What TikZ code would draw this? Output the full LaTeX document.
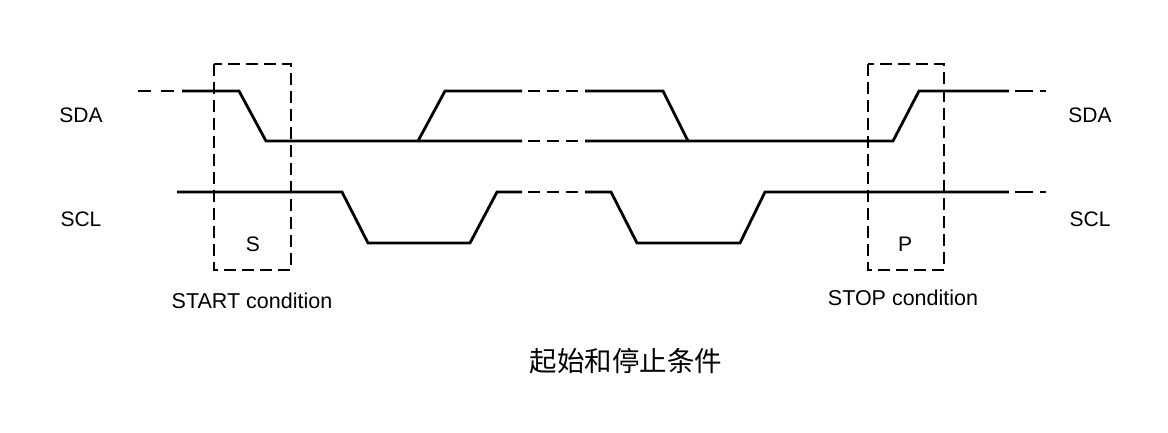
\documentclass[tikz,border=0pt]{standalone}
\usepackage{fontspec}
\setmainfont{Liberation Sans}
\newfontfamily\cjk{Noto Sans CJK SC}

\begin{document}
\begin{tikzpicture}[x=1pt, y=-1pt,
	wave/.style={line width=2.8pt, line join=miter},
	wavegap/.style={line width=2.8pt, dash pattern=on 12pt off 7pt},
	condbox/.style={line width=1.1pt, dash pattern=on 12pt off 6pt},
	sig/.style={font=\fontsize{21}{21}\selectfont, anchor=base},
	cond/.style={font=\fontsize{21.5}{21.5}\selectfont, anchor=base}]

	\useasboundingbox (0,0) rectangle (1168,432);

	%%% SDA %%%
	\draw[wave, dash pattern=on 13pt off 10pt] (138,91) -- (176,91);
	\draw[wave] (182,91) -- (239,91) -- (266,141) -- (522,141);
	\draw[wave] (418,141) -- (445,91) -- (522,91);
	\draw[wavegap] (528,91) -- (579,91);
	\draw[wavegap] (528,141) -- (579,141);
	\draw[wave] (585,91) -- (663,91) -- (688,141);
	\draw[wave] (585,141) -- (893,141) -- (919,91) -- (1009,91);
	\draw[wave, dash pattern=on 18pt off 7pt] (1015,91) -- (1046,91);

	%%% SCL %%%
	\draw[wave] (177,192) -- (342,192) -- (368,243) -- (470,243) -- (497,192) -- (522,192);
	\draw[wavegap] (528,192) -- (579,192);
	\draw[wave] (585,192) -- (611,192) -- (637,243) -- (740,243) -- (765,192) -- (1009,192);
	\draw[wave, dash pattern=on 18pt off 7pt] (1015,192) -- (1046,192);

	%%% Boxes %%%
	\draw[condbox] (214,64) rectangle (291,270);
	\draw[condbox] (868,64) rectangle (944,270);

	\node[sig] (s) at (253,251) {S};
	\node[sig] (p) at (905,251) {P};
	\node[cond] (start) at (252,308) {START condition};
	\node[cond] (stop) at (903,305) {STOP condition};

	\node[sig] (sdaL) at (81,122) {SDA};
	\node[sig] (sclL) at (81,226) {SCL};
	\node[sig] (sdaR) at (1090,122) {SDA};
	\node[sig] (sclR) at (1090,226) {SCL};

	\node[font=\cjk\fontsize{27.5}{27.5}\selectfont, anchor=base] (title) at (626,371) {起始和停止条件};

\end{tikzpicture}
\end{document}
